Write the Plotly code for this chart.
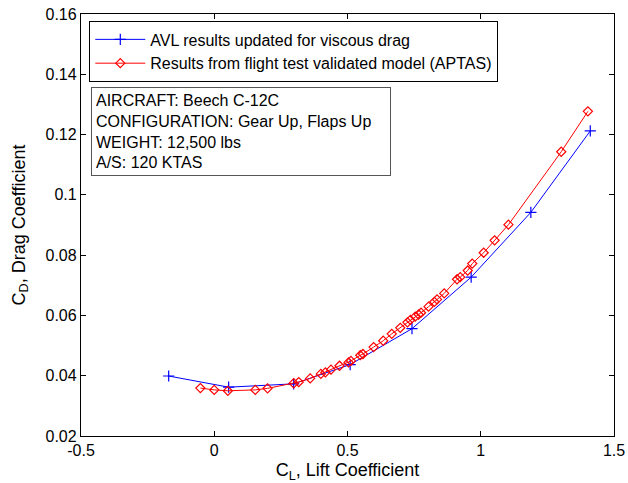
import plotly.graph_objects as go

avl_cl = [-0.171, 0.054, 0.298, 0.510, 0.742, 0.964, 1.188, 1.411]
avl_cd = [0.0399, 0.0362, 0.0373, 0.0437, 0.0556, 0.0727, 0.0942, 0.1212]

aptas_cl = [-0.052, 0.000, 0.051, 0.154, 0.200, 0.298, 0.317, 0.360, 0.400, 0.417,
            0.438, 0.470, 0.504, 0.513, 0.548, 0.558, 0.598, 0.634, 0.666, 0.698,
            0.725, 0.736, 0.754, 0.767, 0.776, 0.804, 0.826, 0.836, 0.863, 0.911,
            0.923, 0.951, 0.968, 1.011, 1.052, 1.104, 1.302, 1.402]
aptas_cd = [0.0359, 0.0353, 0.0350, 0.0353, 0.0358, 0.0375, 0.0379, 0.0391, 0.0406, 0.0411,
            0.0420, 0.0433, 0.0444, 0.0449, 0.0468, 0.0472, 0.0495, 0.0516, 0.0539, 0.0559,
            0.0577, 0.0585, 0.0596, 0.0603, 0.0609, 0.0629, 0.0645, 0.0653, 0.0673, 0.0720,
            0.0727, 0.0749, 0.0772, 0.0808, 0.0849, 0.0901, 0.1143, 0.1277]

x_ticks = [-0.5, 0, 0.5, 1, 1.5]
x_ticktext = ["-0.5", "0", "0.5", "1", "1.5"]
y_ticks = [0.02, 0.04, 0.06, 0.08, 0.10, 0.12, 0.14, 0.16]
y_ticktext = ["0.02", "0.04", "0.06", "0.08", "0.1", "0.12", "0.14", "0.16"]

info_lines = ["AIRCRAFT: Beech C-12C", "CONFIGURATION: Gear Up, Flaps Up",
              "WEIGHT: 12,500 lbs", "A/S: 120 KTAS"]

FONT = "Liberation Sans, Arial, sans-serif"

fig = go.Figure()
fig.add_trace(go.Scatter(
    x=avl_cl, y=avl_cd, mode="lines+markers",
    name="AVL results updated for viscous drag",
    line=dict(color="#0000ff", width=1),
    marker=dict(symbol="cross-thin", size=8, line=dict(color="#0000ff", width=1.2)),
))
fig.add_trace(go.Scatter(
    x=aptas_cl, y=aptas_cd, mode="lines+markers",
    name="Results from flight test validated model (APTAS)",
    line=dict(color="#ff0000", width=1),
    marker=dict(symbol="diamond-open", size=7, color="#ff0000", line=dict(width=1.2)),
))

axis_common = dict(
    showgrid=False, zeroline=False, showline=True, linecolor="black", linewidth=1.3,
    mirror="ticks", ticks="inside", ticklen=5, tickcolor="black", automargin=False,
    tickfont=dict(family=FONT, size=16, color="black"),
)

fig.update_xaxes(range=[-0.5, 1.5], tickvals=x_ticks, ticktext=x_ticktext,
                 title=dict(text="C<sub>L</sub>, Lift Coefficient",
                            font=dict(family=FONT, size=18, color="black"), standoff=8),
                 **axis_common)
fig.update_yaxes(range=[0.02, 0.16], tickvals=y_ticks, ticktext=y_ticktext,
                 title=dict(text="C<sub>D</sub>, Drag Coefficient",
                            font=dict(family=FONT, size=18, color="black"), standoff=15),
                 **axis_common)

fig.add_annotation(
    xref="paper", yref="paper", x=0.019, y=0.826, xanchor="left", yanchor="top",
    text="<br>".join(info_lines), align="left", showarrow=False, width=290,
    font=dict(family=FONT, size=16, color="black"),
    bordercolor="#555555", borderwidth=1, borderpad=4, bgcolor="white",
)

fig.update_layout(
    width=628, height=483,
    margin=dict(l=81, r=14, t=14, b=47),
    plot_bgcolor="white", paper_bgcolor="white",
    font=dict(family=FONT, color="black"),
    legend=dict(x=0.015, y=0.983, xanchor="left", yanchor="top",
                bordercolor="black", borderwidth=1.3, bgcolor="white",
                font=dict(family=FONT, size=16, color="black"),
                tracegroupgap=0, itemwidth=50),
    showlegend=True,
)

fig.write_html("out.html")
